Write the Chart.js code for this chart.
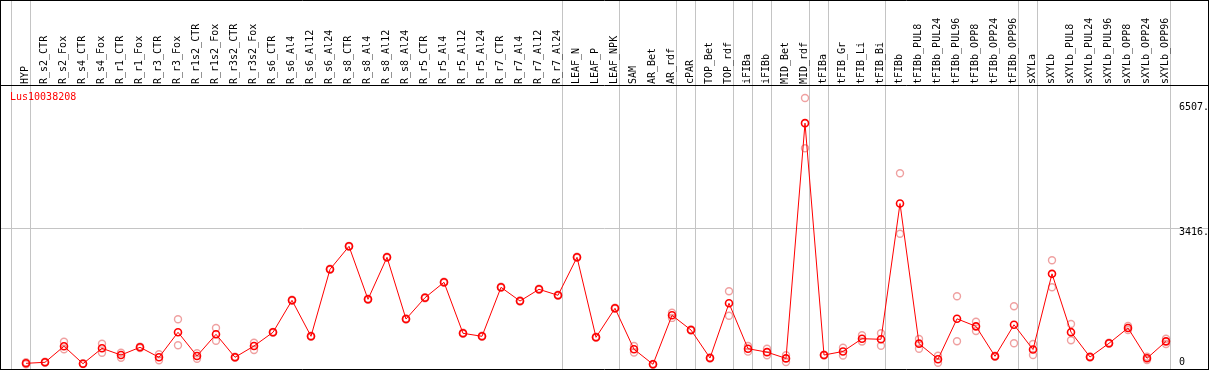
<!DOCTYPE html>
<html>
<head>
<meta charset="utf-8">
<script src="https://cdn.jsdelivr.net/npm/chart.js@4/dist/chart.umd.min.js"></script>
<style>
  html, body { margin: 0; padding: 0; background: #fff; }
  canvas { display: block; }
</style>
</head>
<body>
<canvas id="c" width="1209" height="370"></canvas>
<script>
const title = 'Lus10038208';
const categories = ['HYP','R_s2_CTR','R_s2_Fox','R_s4_CTR','R_s4_Fox','R_r1_CTR','R_r1_Fox','R_r3_CTR','R_r3_Fox',
  'R_r1s2_CTR','R_r1s2_Fox','R_r3s2_CTR','R_r3s2_Fox','R_s6_CTR','R_s6_Al4','R_s6_Al12','R_s6_Al24',
  'R_s8_CTR','R_s8_Al4','R_s8_Al12','R_s8_Al24','R_r5_CTR','R_r5_Al4','R_r5_Al12','R_r5_Al24',
  'R_r7_CTR','R_r7_Al4','R_r7_Al12','R_r7_Al24','LEAF_N','LEAF_P','LEAF_NPK','SAM','AR_Bet','AR_rdf',
  'cPAR','TOP_Bet','TOP_rdf','iFIBa','iFIBb','MID_Bet','MID_rdf','tFIBa','tFIB_Gr','tFIB_Li','tFIB_Bi',
  'tFIBb','tFIBb_PUL8','tFIBb_PUL24','tFIBb_PUL96','tFIBb_OPP8','tFIBb_OPP24','tFIBb_OPP96',
  'sXYLa','sXYLb','sXYLb_PUL8','sXYLb_PUL24','sXYLb_PUL96','sXYLb_OPP8','sXYLb_OPP24','sXYLb_OPP96'];
const meanValues = [213,237,617,204,569,410,593,356,949,387,901,356,624,949,1708,854,2443,2989,1732,2728,1264,
  1770,2135,925,854,2016,1691,1969,1827,2728,830,1518,546,190,1352,1003,339,1637,560,478,330,5910,410,495,797,783,
  4003,680,311,1269,1090,380,1127,540,2336,952,363,688,1051,332,734];
const rep1Values = [240,250,726,215,678,465,610,427,1257,451,1051,370,702,960,1720,866,2455,3000,1744,2740,1276,
  1782,2147,937,866,2028,1703,1981,1839,2740,842,1530,624,200,1414,1015,350,1921,624,560,403,6507,420,584,878,925,
  4721,790,394,1803,1200,392,1566,671,2657,1146,375,700,1098,370,797];
const rep2Values = [190,225,546,195,465,346,578,285,640,323,750,342,529,938,1696,842,2431,2978,1720,2716,1252,
  1758,2123,913,842,2004,1679,1957,1815,2716,818,1506,468,180,1290,991,328,1343,490,403,244,5314,400,400,730,631,
  3286,560,228,735,980,368,688,410,2016,759,351,676,1003,292,671];
const groupStarts = [0,1,29,32,35,36,38,39,40,42,43,46,53,54,61];
const yTickValues = [6507, 3416, 0];
const yTickLabels = ['6507.', '3416.', '0'];
const yGridValues = [3416];

const FONT = '10px "DejaVu Sans Mono", "Liberation Mono", monospace';
const RED = '#ff0000';
const REP = 'rgba(232,120,120,0.7)';
const GRID = '#c4c4c4';

const toXY = arr => arr.map((v, i) => ({ x: i, y: v }));

const decor = {
  id: 'decor',
  beforeDraw(chart) {
    const ctx = chart.ctx;
    ctx.save();
    ctx.fillStyle = '#fff';
    ctx.fillRect(0, 0, chart.width, chart.height);
    ctx.restore();
  },
  beforeDatasetsDraw(chart) {
    const ctx = chart.ctx, xs = chart.scales.x, ys = chart.scales.y, a = chart.chartArea;
    ctx.save();
    ctx.strokeStyle = GRID;
    ctx.lineWidth = 1;
    groupStarts.forEach(g => {
      const x = Math.round(xs.getPixelForValue(g - 0.774)) + 0.5;
      ctx.beginPath(); ctx.moveTo(x, 0); ctx.lineTo(x, a.bottom); ctx.stroke();
    });
    yGridValues.forEach(v => {
      const y = Math.round(ys.getPixelForValue(v)) + 0.5;
      ctx.beginPath(); ctx.moveTo(0, y); ctx.lineTo(chart.width, y); ctx.stroke();
    });
    // borders
    ctx.strokeStyle = '#000';
    ctx.beginPath();
    ctx.moveTo(0, 0.5); ctx.lineTo(chart.width, 0.5);
    ctx.moveTo(0, 85.5); ctx.lineTo(chart.width, 85.5);
    ctx.moveTo(0.5, 0); ctx.lineTo(0.5, chart.height);
    ctx.moveTo(chart.width - 0.5, 0); ctx.lineTo(chart.width - 0.5, chart.height);
    ctx.moveTo(0, 369.5); ctx.lineTo(chart.width, 369.5);
    ctx.stroke();
    // category labels (rotated)
    ctx.fillStyle = '#000';
    ctx.font = FONT;
    ctx.textAlign = 'left';
    ctx.textBaseline = 'middle';
    categories.forEach((c, i) => {
      const x = xs.getPixelForValue(i) - 0.5;
      ctx.save();
      ctx.translate(x, 84);
      ctx.rotate(-Math.PI / 2);
      ctx.fillText(c, 0, 0);
      ctx.restore();
    });
    // y tick labels on the right
    ctx.textBaseline = 'middle';
    yTickValues.forEach((v, i) => {
      let y = ys.getPixelForValue(v) + 4.5;
      y = Math.min(Math.max(y, a.top + 21), a.bottom - 7);
      ctx.fillText(yTickLabels[i], 1179, y);
    });
    // title
    ctx.fillStyle = RED;
    ctx.textBaseline = 'top';
    ctx.fillText(title, 10, 92);
    ctx.restore();
  }
};

new Chart(document.getElementById('c'), {
  type: 'line',
  data: {
    datasets: [
      { data: toXY(meanValues), borderColor: RED, borderWidth: 1, pointRadius: 3.5, pointBorderWidth: 1.6,
        pointBorderColor: RED, pointBackgroundColor: 'rgba(0,0,0,0)', pointStyle: 'circle', order: 0, tension: 0 },
      { data: toXY(rep1Values), showLine: false, pointRadius: 3.5, pointBorderWidth: 1.4,
        pointBorderColor: REP, pointBackgroundColor: 'rgba(0,0,0,0)', order: 1 },
      { data: toXY(rep2Values), showLine: false, pointRadius: 3.5, pointBorderWidth: 1.4,
        pointBorderColor: REP, pointBackgroundColor: 'rgba(0,0,0,0)', order: 2 }
    ]
  },
  options: {
    responsive: false,
    animation: false,
    devicePixelRatio: 1,
    layout: { autoPadding: false, padding: { top: 86, bottom: 1, left: 0, right: 0 } },
    plugins: { legend: { display: false }, tooltip: { enabled: false } },
    scales: {
      x: { type: 'linear', display: false, min: -1.3684, max: 62.263 },
      y: { type: 'linear', display: false, min: 78.3, max: 6791.6 }
    }
  },
  plugins: [decor]
});
</script>
</body>
</html>
